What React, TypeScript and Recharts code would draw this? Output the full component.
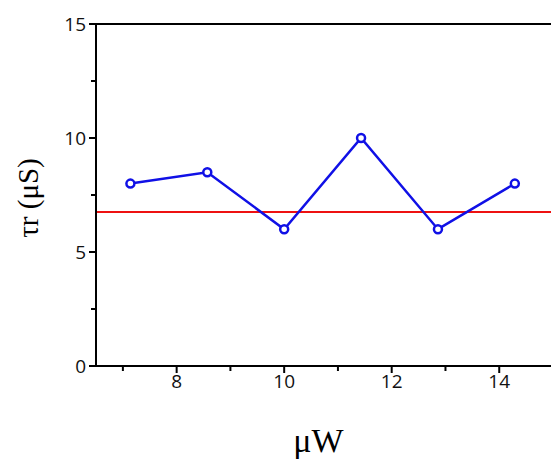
import { LineChart, Line, XAxis, YAxis, ReferenceLine, Label } from 'recharts';

// readings from the figure
const powerUW = [7.14, 8.57, 10, 11.43, 12.86, 14.29];
const tauR = [8, 8.5, 6, 10, 6, 8];
const refLevel = 6.75;

const xTicks = [7, 8, 9, 10, 11, 12, 13, 14, 15];
const xMajor = [8, 10, 12, 14];
const yTicks = [0, 2.5, 5, 7.5, 10, 12.5, 15];
const yMajor = [0, 5, 10, 15];

const data = powerUW.map((x, i) => ({ x, tau: tauR[i] }));

const tickFont = { fontFamily: '"Open Sans", Lato, sans-serif', fontSize: 19, fill: '#111' };

function XTick(props: any) {
  const { x, y, payload } = props;
  const major = xMajor.includes(payload.value);
  return (
    <g>
      <line x1={x} x2={x} y1={y} y2={y + (major ? 7 : 5)} stroke="#000" strokeWidth={2} />
      {major && (
        <text x={x} y={y + 8} dy="0.75em" textAnchor="middle" {...tickFont}>
          {payload.value}
        </text>
      )}
    </g>
  );
}

function YTick(props: any) {
  const { x, y, payload } = props;
  const major = yMajor.includes(payload.value);
  return (
    <g>
      <line x1={x - (major ? 7 : 5)} x2={x} y1={y} y2={y} stroke="#000" strokeWidth={2} />
      {major && (
        <text x={x - 10} y={y} dy="0.36em" textAnchor="end" {...tickFont}>
          {payload.value}
        </text>
      )}
    </g>
  );
}

export default function App() {
  return (
    <div style={{ position: 'fixed', left: 0, top: 0, width: 551, height: 462, overflow: 'hidden', background: '#fff' }}>
      <LineChart width={560} height={462} data={data} margin={{ top: 0, right: 7, bottom: 0, left: 0 }}>
        <XAxis
          xAxisId="top"
          orientation="top"
          type="number"
          dataKey="x"
          domain={[6.5, 15]}
          height={24}
          tick={false}
          tickLine={false}
          axisLine={{ stroke: '#000', strokeWidth: 2 }}
        />
        <XAxis
          type="number"
          dataKey="x"
          domain={[6.5, 15]}
          ticks={xTicks}
          interval={0}
          height={96}
          tickSize={0}
          tickMargin={0}
          tickLine={false}
          tick={<XTick />}
          axisLine={{ stroke: '#000', strokeWidth: 2 }}
        >
          <Label
            value="μW"
            position="insideBottom"
            offset={10}
            dx={-6}
            style={{ fontFamily: '"Liberation Serif", "Times New Roman", serif', fontSize: 34, fill: '#000' }}
          />
        </XAxis>
        <YAxis
          type="number"
          domain={[0, 15]}
          ticks={yTicks}
          interval={0}
          width={96}
          tickSize={0}
          tickMargin={0}
          tickLine={false}
          tick={<YTick />}
          axisLine={{ stroke: '#000', strokeWidth: 2 }}
        >
          <Label
            value="τr (μS)"
            angle={-90}
            position="center"
            dx={-20}
            dy={3}
            style={{ fontFamily: '"Liberation Serif", "Times New Roman", serif', fontSize: 29, fill: '#000' }}
          />
        </YAxis>
        <ReferenceLine y={refLevel} stroke="#ee1111" strokeWidth={2} />
        <Line
          type="linear"
          dataKey="tau"
          stroke="#1010e6"
          strokeWidth={2.5}
          dot={{ r: 4, stroke: '#1010e6', strokeWidth: 2.5, fill: '#fff' }}
          isAnimationActive={false}
        />
      </LineChart>
    </div>
  );
}
